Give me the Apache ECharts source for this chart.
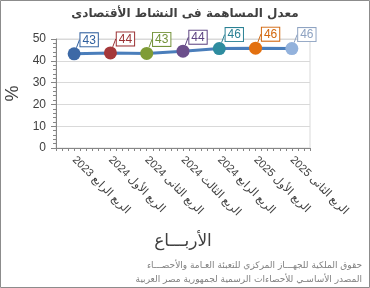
<!DOCTYPE html>
<html>
<head>
<meta charset="utf-8">
<script src="https://cdn.jsdelivr.net/npm/echarts@6/dist/echarts.min.js"></script>
<style>html,body{margin:0;padding:0;background:#fff}#c{width:370px;height:288px}</style>
</head>
<body>
<div id="c"></div>
<script>
const titleText = 'معدل المساهمة فى النشاط الأقتصادى';
const categories = ['الربع الرابع 2023', 'الربع الأول 2024', 'الربع الثانى 2024', 'الربع الثالث 2024', 'الربع الرابع 2024', 'الربع الأول 2025', 'الربع الثانى 2025'];
const values = [43.2, 43.6, 43.4, 44.4, 45.6, 45.8, 45.6];
const yTicks = [0, 10, 20, 30, 40, 50];
const xName = 'الأربـــاع';
const yName = '%';
const footer1 = 'حقوق الملكية للجهـــاز المركزي للتعبئة العـامة والأحصـــاء';
const footer2 = 'المصدر الأساسـي للأحصاءات الرسمية لجمهورية مصر العربية';
const pointColors = ['#3d69a6', '#a5383a', '#7f9c36', '#6b4e8b', '#2e8c9f', '#e3700f', '#93b2dc'];
const labelColors = ['#2f5f9e', '#9b3234', '#74933a', '#5e4482', '#2a8194', '#d2660c', '#8ea3c2'];
const minorSlots = new Array(categories.length * 6).fill('');

const FONT = '"Liberation Sans","DejaVu Sans",sans-serif';
const chart = echarts.init(document.getElementById('c'), null, {renderer: 'canvas'});
chart.setOption({
  animation: false,
  backgroundColor: '#fff',
  title: {
    text: titleText, left: 'center', top: 3,
    textStyle: {fontFamily: '"DejaVu Sans",sans-serif', fontSize: 12, fontWeight: 'bold', color: '#404040'}
  },
  grid: {left: 56, right: 60, top: 39, bottom: 140, show: true, borderColor: '#d9d9d9', borderWidth: 1,
    containLabel: false, outerBoundsMode: 'none'},
  xAxis: [{
    type: 'category', data: categories, boundaryGap: true,
    name: xName, nameLocation: 'middle', nameGap: 85,
    nameTextStyle: {fontFamily: '"DejaVu Sans",sans-serif', fontSize: 17, color: '#404040'},
    axisLine: {lineStyle: {color: '#868686'}},
    axisTick: {alignWithLabel: true, length: 5, lineStyle: {color: '#868686'}},
    axisLabel: {interval: 0, rotate: -45, margin: 10, fontSize: 11, color: '#404040', fontFamily: FONT}
  }, {
    type: 'category', data: minorSlots, position: 'bottom', boundaryGap: true,
    axisLine: {show: false}, axisLabel: {show: false},
    axisTick: {show: true, length: 3, interval: 0, lineStyle: {color: '#868686'}}
  }],
  yAxis: {
    type: 'value', min: 0, max: 50, interval: 10,
    name: yName, nameLocation: 'middle', nameGap: 32, nameRotate: 90,
    nameTextStyle: {fontFamily: FONT, fontSize: 18, color: '#404040'},
    axisLine: {show: true, lineStyle: {color: '#868686'}},
    axisTick: {show: true, length: 5, lineStyle: {color: '#868686'}},
    minorTick: {show: true, splitNumber: 5, length: 3, lineStyle: {color: '#868686'}},
    axisLabel: {fontSize: 12, color: '#404040', margin: 10, fontFamily: FONT,
      formatter: v => yTicks.includes(v) ? String(v) : ''},
    splitLine: {lineStyle: {color: '#d9d9d9'}}
  },
  series: [{
    type: 'line', xAxisIndex: 0,
    data: values.map((v, i) => ({
      value: v,
      itemStyle: {color: pointColors[i]},
      label: {color: labelColors[i], borderColor: labelColors[i]},
      labelLine: {lineStyle: {color: labelColors[i]}}
    })),
    symbol: 'circle', symbolSize: 13,
    lineStyle: {color: '#4a7ebb', width: 3},
    label: {
      show: true, position: 'top', distance: 4,
      formatter: p => String(Math.round(p.value)),
      fontSize: 12, fontFamily: FONT,
      backgroundColor: '#fff', borderWidth: 1, padding: [1, 2, 0, 2]
    },
    labelLayout: {dx: 15, dy: 3},
    labelLine: {show: true, lineStyle: {width: 1}}
  }],
  graphic: [
    {type: 'rect', shape: {x: 0.5, y: 0.5, width: 369, height: 287}, style: {fill: 'none', stroke: '#8c8c8c', lineWidth: 1}, silent: true},
    {type: 'text', right: 8, top: 261, style: {text: footer1, fill: '#7f7f7f', fontSize: 9, fontFamily: '"DejaVu Sans",sans-serif', textAlign: 'right'}},
    {type: 'text', right: 8, top: 275, style: {text: footer2, fill: '#7f7f7f', fontSize: 9, fontFamily: '"DejaVu Sans",sans-serif', textAlign: 'right'}}
  ]
});
</script>
</body>
</html>
